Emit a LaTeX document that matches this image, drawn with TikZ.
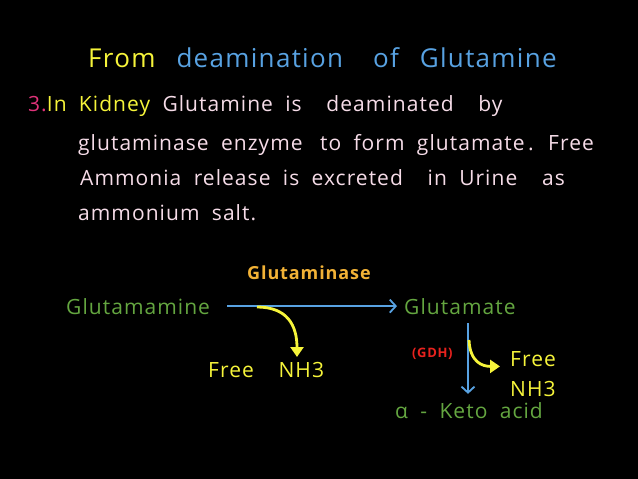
\documentclass[tikz,border=0pt]{standalone}
\usepackage{fontspec}
\setmainfont[LetterSpace=5,WordSpace=1.9]{Open Sans}
\usetikzlibrary{positioning,arrows.meta}
\definecolor{cYel}{HTML}{F6F43A}
\definecolor{cSky}{HTML}{58A2E2}
\definecolor{cPink}{HTML}{F6DCE8}
\definecolor{cMag}{HTML}{E0337A}
\definecolor{cLeaf}{HTML}{64A640}
\definecolor{cAmber}{HTML}{F2B236}
\definecolor{cRed}{HTML}{E8221E}
\newcommand{\headsize}{\fontsize{26}{30}\selectfont}
\newcommand{\bodysize}{\fontsize{21}{25}\selectfont}
\newcommand{\chemsize}{\fontsize{21}{25}\selectfont}

\begin{document}
\begin{tikzpicture}[x=1pt,y=-1pt,
    every node/.style={inner sep=0pt,anchor=base west},
    chem/.style={text=cLeaf,font=\chemsize},
    gas/.style={text=cYel,font=\chemsize},
    flow/.style={draw=cSky,line width=1.8pt,-{Straight Barb[length=6pt,width=13pt,line width=1.8pt]}},
    loss/.style={draw=cYel,line width=2.8pt,-{Triangle[length=10pt,width=13pt]}}]
    \fill[black] (0,0) rectangle (638,479);
    \useasboundingbox (0,0) rectangle (638,479);
    \node[font=\headsize] (head) at (88,67)
      {\color{cYel}From\hspace{21pt}\color{cSky}deamination\hspace{30pt}of\hspace{21pt}Glutamine};
    \node[font=\bodysize] (l1) at (28,111)
      {\color{cMag}3.\color{cYel}In Kidney \color{cPink}Glutamine is\ \ deaminated\ \ by};
    \node[font=\bodysize,text=cPink] (l2) at (78,150)
      {glutaminase enzyme\hspace{5pt} to form glutamate\,. Free};
    \node[font=\bodysize,text=cPink] (l3) at (80,185)
      {Ammonia release is excreted\ \ in Urine\ \ as};
    \node[font=\bodysize,text=cPink] (l4) at (78,220) {ammonium salt.};
    \node[font=\fontsize{18}{22}\selectfont\bfseries,text=cAmber] (enz1) at (247,279) {Glutaminase};
    \node[chem] (gln) at (66,314) {Glutamamine};
    \node[chem] (glu) at (404,314) {Glutamate};
    \node[gas] (nh1) at (208,377) {Free\ \ NH3};
    \node[font=\fontsize{13}{15}\selectfont\bfseries,text=cRed] (enz2) at (412,357) {(GDH)};
    \node[gas] (free2) at (510,366) {Free};
    \node[gas] (nh2) at (510,396) {NH3};
    \node[chem] (keto) at (395,418) {α - Keto\ acid};
    \coordinate (gd) at (468,323);
    \coordinate (t1) at (257,307);
    \coordinate (h1) at (297,357);
    \coordinate (t2) at (469,340);
    \draw[flow,shorten <=17pt,shorten >=7pt] (gln.east) -- (glu.west);
    \draw[flow,shorten >=8pt] (gd) -- (gd |- keto.north);
    \draw[loss] (t1) .. controls +(30,0) and +(0,-32) .. (h1);
    \draw[loss] (t2) .. controls +(1,22) and +(-18,0) .. ([xshift=-10pt]free2.south west);
  \end{tikzpicture}
\end{document}
